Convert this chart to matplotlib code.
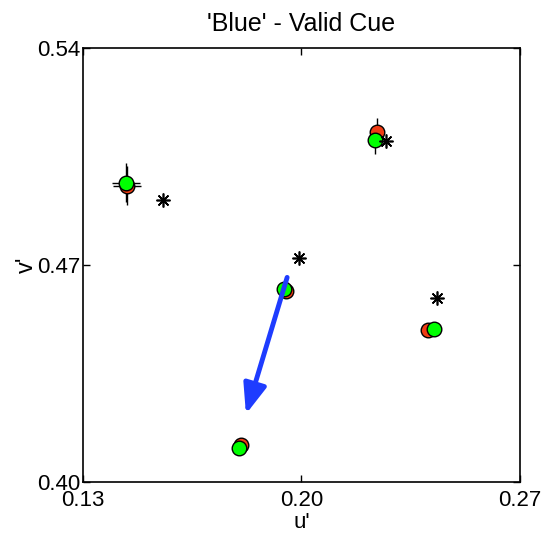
import matplotlib
matplotlib.use("Agg")
import matplotlib.pyplot as plt

plt.rcParams['font.family'] = ['Liberation Sans', 'DejaVu Sans']

# Data (u', v')
red_u = [0.1441, 0.1950, 0.2242, 0.2405, 0.1806]
red_v = [0.4956, 0.4615, 0.5130, 0.4489, 0.4119]
red_uerr = [0.0044, 0.0010, 0.0010, 0.0010, 0.0010]
red_verr = [0.0064, 0.0015, 0.0045, 0.0015, 0.0015]

green_u = [0.1438, 0.1944, 0.2236, 0.2425, 0.1800]
green_v = [0.4966, 0.4624, 0.5104, 0.4492, 0.4110]
green_uerr = [0.0044, 0.0010, 0.0010, 0.0010, 0.0010]
green_verr = [0.0064, 0.0015, 0.0045, 0.0015, 0.0015]

star_u = [0.1556, 0.1992, 0.2271, 0.2434]
star_v = [0.4911, 0.4721, 0.5101, 0.4592]

arrow_start = (0.1954, 0.4660)
arrow_end = (0.1822, 0.4219)

xticks = [0.13, 0.20, 0.27]
yticks = [0.40, 0.47, 0.54]

fig = plt.figure(figsize=(5.47, 5.33), dpi=100)
ax = fig.add_axes([83/547, 1 - 482/533, 437/547, 434/533])

ax.errorbar(red_u, red_v, xerr=red_uerr, yerr=red_verr, fmt='none',
            ecolor='black', elinewidth=1.0, capsize=0, zorder=2)
ax.errorbar(green_u, green_v, xerr=green_uerr, yerr=green_verr, fmt='none',
            ecolor='black', elinewidth=1.0, capsize=0, zorder=2)
ax.plot(red_u, red_v, 'o', ms=10.5, mfc='#f03c14', mec='black', mew=1.0, zorder=3)
ax.plot(green_u, green_v, 'o', ms=10.5, mfc='#00ff00', mec='black', mew=1.0, zorder=4)
ax.plot(star_u, star_v, ls='none', marker=(8, 2, 0), ms=10, mec='black', mew=1.2, zorder=5)

ax.annotate('', xy=arrow_end, xytext=arrow_start,
            arrowprops=dict(arrowstyle='-|>,head_length=1.8,head_width=0.7',
                            color='#1e3cff', lw=3.5, shrinkA=0, shrinkB=0),
            zorder=6)

ax.set_xlim(0.13, 0.27)
ax.set_ylim(0.40, 0.54)
ax.set_xticks(xticks)
ax.set_yticks(yticks)
ax.set_xticklabels(['%.2f' % t for t in xticks])
ax.set_yticklabels(['%.2f' % t for t in yticks])
ax.tick_params(direction='in', top=True, right=True, length=5, width=1,
               labelsize=16)
ax.tick_params(axis='x', pad=6)
ax.tick_params(axis='y', pad=2)
for s in ax.spines.values():
    s.set_linewidth(1.2)

ax.set_xlabel("u'", fontsize=16, labelpad=0.5)
ax.set_ylabel("v'", fontsize=17, labelpad=-1)
ax.set_title("'Blue' - Valid Cue", fontsize=18, pad=12)

fig.savefig('out.png', dpi=100)
